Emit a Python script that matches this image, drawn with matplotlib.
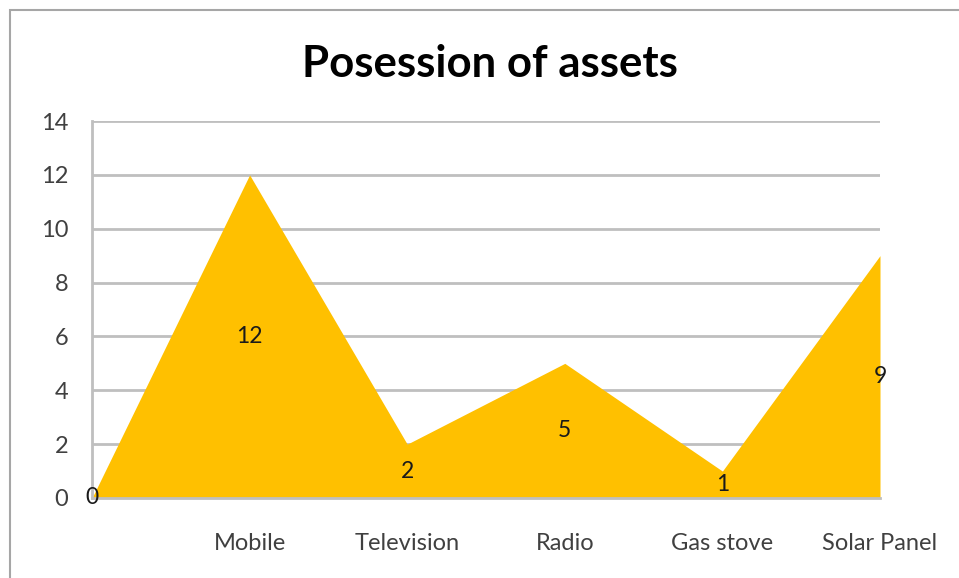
import matplotlib
matplotlib.use('Agg')
import matplotlib.pyplot as plt
from matplotlib.patches import Rectangle

# asset counts, first slot is an empty category anchored at zero
categories = ['', 'Mobile', 'Television', 'Radio', 'Gas stove', 'Solar Panel']
counts = [0, 12, 2, 5, 1, 9]
y_ticks = [0, 2, 4, 6, 8, 10, 12, 14]

plt.rcParams['font.family'] = ['Lato', 'DejaVu Sans']

fig = plt.figure(figsize=(9.59, 5.78), dpi=100)
ax = fig.add_axes([92 / 959, 1 - 498 / 578, (880 - 92) / 959, (498 - 121) / 578])

xs = list(range(len(categories)))
ax.fill_between(xs, counts, 0, color='#FFC000', linewidth=0, zorder=2)

# value labels sit halfway up each point
for x, v in zip(xs, counts):
    ax.text(x, v / 2, str(v), ha='center', va='center', fontsize=16.5,
            color='#1a1a1a', zorder=3)

ax.set_xlim(0, len(categories) - 1)
ax.set_ylim(0, 14)
ax.set_yticks(y_ticks)
ax.set_xticks(xs)
ax.set_xticklabels(categories)
ax.tick_params(axis='y', length=0, pad=17, labelsize=17, labelcolor='#404040')
ax.tick_params(axis='x', length=0, pad=25, labelsize=17, labelcolor='#404040')
ax.grid(axis='y', color='#BFBFBF', linewidth=2, zorder=1)
ax.set_axisbelow(True)

for side in ['top', 'right']:
    ax.spines[side].set_visible(False)
for side in ['left', 'bottom']:
    ax.spines[side].set_color('#BFBFBF')
    ax.spines[side].set_linewidth(2)

fig.text(0.511, 1 - 64 / 578, 'Posession of assets', ha='center', va='center',
         fontsize=31.5, fontweight='bold', color='black')

# outer chart frame, runs off the right and bottom edges
fig.patches.append(Rectangle((10 / 959, -0.1), 1.1, 1 - 10 / 578 + 0.1,
                             transform=fig.transFigure, fill=False,
                             edgecolor='#A6A6A6', linewidth=1.5))

fig.savefig('out.png', dpi=100)
